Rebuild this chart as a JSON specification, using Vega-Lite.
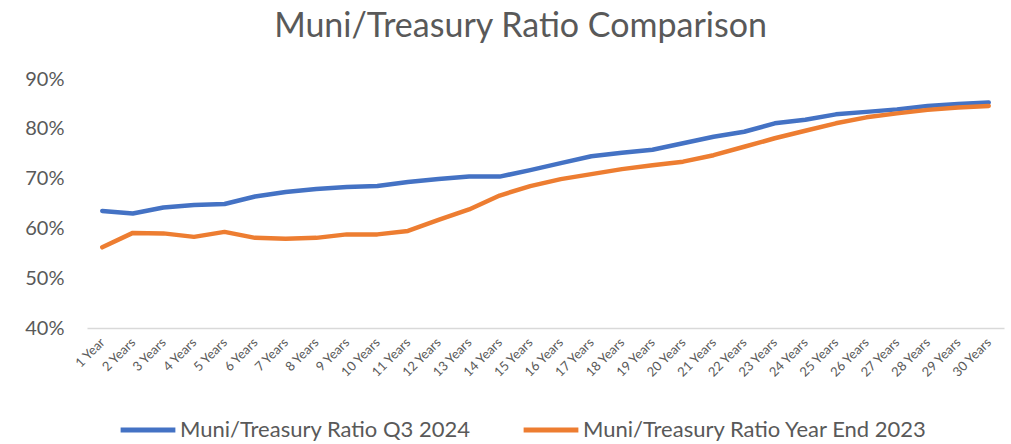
{
  "$schema": "https://vega.github.io/schema/vega-lite/v6.json",
  "width": 917,
  "height": 249,
  "autosize": {"type": "none"},
  "padding": {"left": 87, "top": 79, "right": 7, "bottom": 116},
  "background": "white",
  "title": {
    "text": "Muni/Treasury Ratio Comparison",
    "anchor": "middle",
    "frame": "group",
    "dx": -25,
    "offset": 25,
    "font": "Lato",
    "fontSize": 34,
    "fontWeight": "normal",
    "color": "#595959"
  },
  "config": {
    "view": {"stroke": null},
    "font": "Lato"
  },
  "data": {
    "values": [
      {"term": "1 Year", "series": "Muni/Treasury Ratio Q3 2024", "value": 63.5},
      {"term": "2 Years", "series": "Muni/Treasury Ratio Q3 2024", "value": 63.0},
      {"term": "3 Years", "series": "Muni/Treasury Ratio Q3 2024", "value": 64.2},
      {"term": "4 Years", "series": "Muni/Treasury Ratio Q3 2024", "value": 64.7},
      {"term": "5 Years", "series": "Muni/Treasury Ratio Q3 2024", "value": 64.9},
      {"term": "6 Years", "series": "Muni/Treasury Ratio Q3 2024", "value": 66.4},
      {"term": "7 Years", "series": "Muni/Treasury Ratio Q3 2024", "value": 67.3},
      {"term": "8 Years", "series": "Muni/Treasury Ratio Q3 2024", "value": 67.9},
      {"term": "9 Years", "series": "Muni/Treasury Ratio Q3 2024", "value": 68.3},
      {"term": "10 Years", "series": "Muni/Treasury Ratio Q3 2024", "value": 68.5},
      {"term": "11 Years", "series": "Muni/Treasury Ratio Q3 2024", "value": 69.3},
      {"term": "12 Years", "series": "Muni/Treasury Ratio Q3 2024", "value": 69.9},
      {"term": "13 Years", "series": "Muni/Treasury Ratio Q3 2024", "value": 70.4},
      {"term": "14 Years", "series": "Muni/Treasury Ratio Q3 2024", "value": 70.4},
      {"term": "15 Years", "series": "Muni/Treasury Ratio Q3 2024", "value": 71.7},
      {"term": "16 Years", "series": "Muni/Treasury Ratio Q3 2024", "value": 73.1},
      {"term": "17 Years", "series": "Muni/Treasury Ratio Q3 2024", "value": 74.5},
      {"term": "18 Years", "series": "Muni/Treasury Ratio Q3 2024", "value": 75.2},
      {"term": "19 Years", "series": "Muni/Treasury Ratio Q3 2024", "value": 75.8},
      {"term": "20 Years", "series": "Muni/Treasury Ratio Q3 2024", "value": 77.1},
      {"term": "21 Years", "series": "Muni/Treasury Ratio Q3 2024", "value": 78.4},
      {"term": "22 Years", "series": "Muni/Treasury Ratio Q3 2024", "value": 79.4},
      {"term": "23 Years", "series": "Muni/Treasury Ratio Q3 2024", "value": 81.1},
      {"term": "24 Years", "series": "Muni/Treasury Ratio Q3 2024", "value": 81.8},
      {"term": "25 Years", "series": "Muni/Treasury Ratio Q3 2024", "value": 82.9},
      {"term": "26 Years", "series": "Muni/Treasury Ratio Q3 2024", "value": 83.4},
      {"term": "27 Years", "series": "Muni/Treasury Ratio Q3 2024", "value": 83.9},
      {"term": "28 Years", "series": "Muni/Treasury Ratio Q3 2024", "value": 84.6},
      {"term": "29 Years", "series": "Muni/Treasury Ratio Q3 2024", "value": 85.0},
      {"term": "30 Years", "series": "Muni/Treasury Ratio Q3 2024", "value": 85.3},
      {"term": "1 Year", "series": "Muni/Treasury Ratio Year End 2023", "value": 56.2},
      {"term": "2 Years", "series": "Muni/Treasury Ratio Year End 2023", "value": 59.1},
      {"term": "3 Years", "series": "Muni/Treasury Ratio Year End 2023", "value": 59.0},
      {"term": "4 Years", "series": "Muni/Treasury Ratio Year End 2023", "value": 58.3},
      {"term": "5 Years", "series": "Muni/Treasury Ratio Year End 2023", "value": 59.3},
      {"term": "6 Years", "series": "Muni/Treasury Ratio Year End 2023", "value": 58.1},
      {"term": "7 Years", "series": "Muni/Treasury Ratio Year End 2023", "value": 57.9},
      {"term": "8 Years", "series": "Muni/Treasury Ratio Year End 2023", "value": 58.1},
      {"term": "9 Years", "series": "Muni/Treasury Ratio Year End 2023", "value": 58.8},
      {"term": "10 Years", "series": "Muni/Treasury Ratio Year End 2023", "value": 58.8},
      {"term": "11 Years", "series": "Muni/Treasury Ratio Year End 2023", "value": 59.5},
      {"term": "12 Years", "series": "Muni/Treasury Ratio Year End 2023", "value": 61.7},
      {"term": "13 Years", "series": "Muni/Treasury Ratio Year End 2023", "value": 63.8},
      {"term": "14 Years", "series": "Muni/Treasury Ratio Year End 2023", "value": 66.6},
      {"term": "15 Years", "series": "Muni/Treasury Ratio Year End 2023", "value": 68.5},
      {"term": "16 Years", "series": "Muni/Treasury Ratio Year End 2023", "value": 69.9},
      {"term": "17 Years", "series": "Muni/Treasury Ratio Year End 2023", "value": 70.9},
      {"term": "18 Years", "series": "Muni/Treasury Ratio Year End 2023", "value": 71.9},
      {"term": "19 Years", "series": "Muni/Treasury Ratio Year End 2023", "value": 72.7},
      {"term": "20 Years", "series": "Muni/Treasury Ratio Year End 2023", "value": 73.4},
      {"term": "21 Years", "series": "Muni/Treasury Ratio Year End 2023", "value": 74.7},
      {"term": "22 Years", "series": "Muni/Treasury Ratio Year End 2023", "value": 76.4},
      {"term": "23 Years", "series": "Muni/Treasury Ratio Year End 2023", "value": 78.1},
      {"term": "24 Years", "series": "Muni/Treasury Ratio Year End 2023", "value": 79.6},
      {"term": "25 Years", "series": "Muni/Treasury Ratio Year End 2023", "value": 81.1},
      {"term": "26 Years", "series": "Muni/Treasury Ratio Year End 2023", "value": 82.3},
      {"term": "27 Years", "series": "Muni/Treasury Ratio Year End 2023", "value": 83.1},
      {"term": "28 Years", "series": "Muni/Treasury Ratio Year End 2023", "value": 83.8},
      {"term": "29 Years", "series": "Muni/Treasury Ratio Year End 2023", "value": 84.3},
      {"term": "30 Years", "series": "Muni/Treasury Ratio Year End 2023", "value": 84.6}
    ]
  },
  "mark": {"type": "line", "strokeWidth": 4.5, "strokeCap": "round", "strokeJoin": "round"},
  "encoding": {
    "x": {
      "field": "term",
      "type": "ordinal",
      "sort": null,
      "title": null,
      "scale": {"paddingInner": 0, "paddingOuter": 0.5},
      "axis": {
        "labelAngle": -45,
        "labelAlign": "right",
        "labelBaseline": "middle",
        "labelPadding": 12,
        "labelFont": "Lato",
        "labelFontSize": 13,
        "labelColor": "#595959",
        "ticks": false,
        "domainColor": "#D9D9D9",
        "domainWidth": 1.5,
        "grid": false
      }
    },
    "y": {
      "field": "value",
      "type": "quantitative",
      "title": null,
      "scale": {"domain": [40, 90], "nice": false, "zero": false},
      "axis": {
        "values": [40, 50, 60, 70, 80, 90],
        "labelExpr": "datum.value + '%'",
        "labelFont": "Lato",
        "labelFontSize": 20,
        "labelColor": "#595959",
        "labelPadding": 23,
        "ticks": false,
        "domain": false,
        "grid": false
      }
    },
    "color": {
      "field": "series",
      "type": "nominal",
      "scale": {
        "domain": ["Muni/Treasury Ratio Q3 2024", "Muni/Treasury Ratio Year End 2023"],
        "range": ["#4472C4", "#ED7D31"]
      },
      "legend": {
        "title": null,
        "orient": "none",
        "direction": "horizontal",
        "legendX": 31,
        "legendY": 321,
        "padding": 0,
        "symbolType": "stroke",
        "symbolSize": 3000,
        "symbolStrokeWidth": 5,
        "labelFont": "Lato",
        "labelFontSize": 22,
        "labelColor": "#595959",
        "labelOffset": 2,
        "columnPadding": 42,
        "labelLimit": 500
      }
    }
  }
}
